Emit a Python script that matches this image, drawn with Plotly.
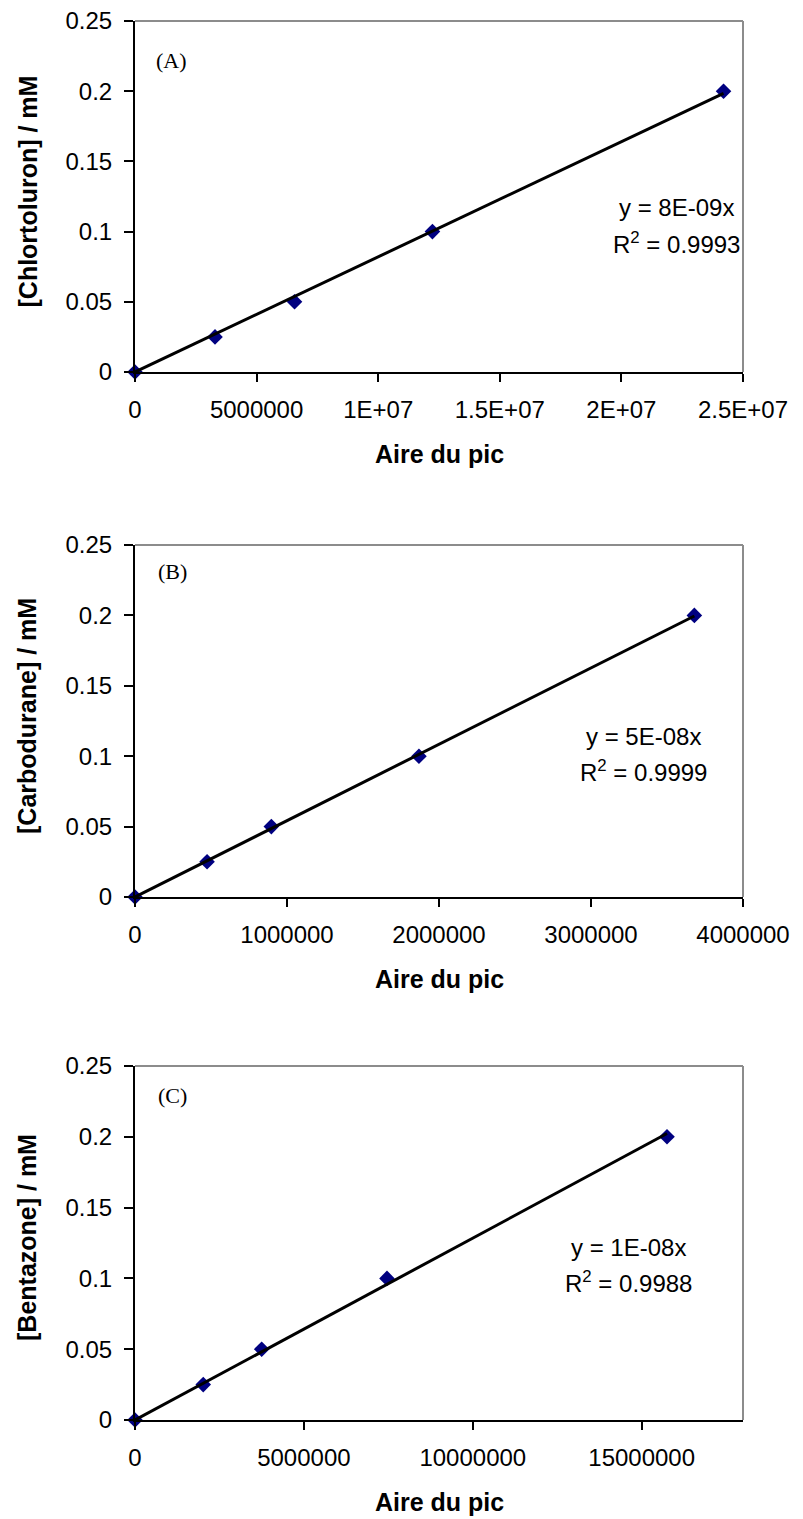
import numpy as np
import plotly.graph_objects as go

# ---------------- data ----------------
conc = [0, 0.025, 0.05, 0.1, 0.2]
area_A = [0, 3.29e6, 6.56e6, 12.23e6, 24.2e6]
area_B = [0, 474000, 897000, 1868000, 3680000]
area_C = [0, 2.02e6, 3.75e6, 7.46e6, 15.75e6]

y_titles = ["[Chlortoluron] / mM", "[Carbodurane] / mM", "[Bentazone] / mM"]
panel_labels = ["(A)", "(B)", "(C)"]
eq_texts = ["y = 8E-09x", "y = 5E-08x", "y = 1E-08x"]
r2_texts = ["R<sup>2</sup> = 0.9993", "R<sup>2</sup> = 0.9999", "R<sup>2</sup> = 0.9988"]
x_title = "Aire du pic"

x_ranges = [[0, 2.5e7], [0, 4e6], [0, 1.8e7]]
x_tickvals = [[0, 5e6, 1e7, 1.5e7, 2e7, 2.5e7],
              [0, 1e6, 2e6, 3e6, 4e6],
              [0, 5e6, 1e7, 1.5e7]]
x_ticktext = [["0", "5000000", "1E+07", "1.5E+07", "2E+07", "2.5E+07"],
              ["0", "1000000", "2000000", "3000000", "4000000"],
              ["0", "5000000", "10000000", "15000000"]]
y_tickvals = [0, 0.05, 0.1, 0.15, 0.2, 0.25]
y_ticktext = ["0", "0.05", "0.1", "0.15", "0.2", "0.25"]

# ---------------- layout geometry (pixels) ----------------
W, H = 803, 1519
plot_left, plot_right = 135, 743
panels_px = [(21, 372), (545, 897), (1066, 1420)]  # top, bottom
label_px = [(154, 60), (156, 572), (156, 1095)]
eq_px = [(676, 208), (643, 736), (628, 1247)]
line_gap = 35

FONT = "Liberation Sans, Arial, sans-serif"
SERIF = "Liberation Serif, Times New Roman, serif"
TICK_SIZE = 24
TITLE_SIZE = 25

def px_x(p):
    return p / W

def px_y(p):
    return 1 - p / H

fig = go.Figure()
areas = [area_A, area_B, area_C]
annotations = []
shapes = []

for i, area in enumerate(areas):
    n = "" if i == 0 else str(i + 1)
    xa, ya = "x" + n, "y" + n
    xarr = np.array(area, dtype=float)
    yarr = np.array(conc, dtype=float)
    slope = float((xarr * yarr).sum() / (xarr * xarr).sum())
    fit_x = [0, float(xarr.max())]
    fit_y = [0, slope * float(xarr.max())]

    fig.add_trace(go.Scatter(x=area, y=conc, mode="markers", xaxis=xa, yaxis=ya,
                             marker=dict(symbol="diamond", size=12, color="#000080"),
                             cliponaxis=False, showlegend=False))
    fig.add_trace(go.Scatter(x=fit_x, y=fit_y, mode="lines", xaxis=xa, yaxis=ya,
                             line=dict(color="black", width=3),
                             cliponaxis=False, showlegend=False))

    top, bot = panels_px[i]
    fig.layout["xaxis" + n] = dict(
        domain=[px_x(plot_left), px_x(plot_right)], anchor=ya,
        range=x_ranges[i], tickvals=x_tickvals[i], ticktext=x_ticktext[i],
        showline=True, linecolor="black", linewidth=2, showgrid=False, zeroline=False,
        ticks="outside", ticklen=8, tickwidth=2, tickcolor="black",
        ticklabelstandoff=7,
        tickfont=dict(family=FONT, size=TICK_SIZE, color="black"), automargin=False)
    fig.layout["yaxis" + n] = dict(
        domain=[px_y(bot), px_y(top)], anchor=xa,
        range=[0, 0.25], tickvals=y_tickvals, ticktext=y_ticktext,
        showline=True, linecolor="black", linewidth=2, showgrid=False, zeroline=False,
        ticks="outside", ticklen=9, tickwidth=2, tickcolor="black",
        ticklabelstandoff=7,
        tickfont=dict(family=FONT, size=TICK_SIZE, color="black"), automargin=False)

    # grey top and right border
    shapes.append(dict(type="line", xref=xa + " domain", yref=ya + " domain",
                       x0=0, x1=1, y0=1, y1=1, line=dict(color="#8c8c8c", width=2)))
    shapes.append(dict(type="line", xref=xa + " domain", yref=ya + " domain",
                       x0=1, x1=1, y0=0, y1=1, line=dict(color="#8c8c8c", width=2)))

    # y title
    annotations.append(dict(text="<b>" + y_titles[i] + "</b>", textangle=-90,
                            x=px_x(27), y=px_y((top + bot) / 2 - 5), xref="paper", yref="paper",
                            xanchor="center", yanchor="middle",
                            showarrow=False, font=dict(family=FONT, size=TITLE_SIZE, color="black")))
    # x title
    annotations.append(dict(text="<b>" + x_title + "</b>",
                            x=px_x((plot_left + plot_right) / 2), y=px_y(bot + 82),
                            xref="paper", yref="paper", xanchor="center", yanchor="middle",
                            showarrow=False,
                            font=dict(family=FONT, size=TITLE_SIZE, color="black")))
    # panel label
    lx, ly = label_px[i]
    annotations.append(dict(text=panel_labels[i], x=px_x(lx), y=px_y(ly),
                            xref="paper", yref="paper", xanchor="left", yanchor="middle",
                            showarrow=False,
                            font=dict(family=SERIF, size=22, color="black")))
    # equation
    ex, ey = eq_px[i]
    annotations.append(dict(text=eq_texts[i], x=px_x(ex), y=px_y(ey),
                            xref="paper", yref="paper", xanchor="center", yanchor="middle",
                            showarrow=False,
                            font=dict(family=FONT, size=TICK_SIZE, color="black")))
    annotations.append(dict(text=r2_texts[i], x=px_x(ex), y=px_y(ey + line_gap),
                            xref="paper", yref="paper", xanchor="center", yanchor="middle",
                            showarrow=False,
                            font=dict(family=FONT, size=TICK_SIZE, color="black")))

fig.update_layout(width=W, height=H, margin=dict(l=0, r=0, t=0, b=0),
                  plot_bgcolor="white", paper_bgcolor="white",
                  annotations=annotations, shapes=shapes)

fig.write_html("out.html", config={"displayModeBar": False},
               post_script="document.body.style.margin='0';document.body.style.overflow='hidden';")
